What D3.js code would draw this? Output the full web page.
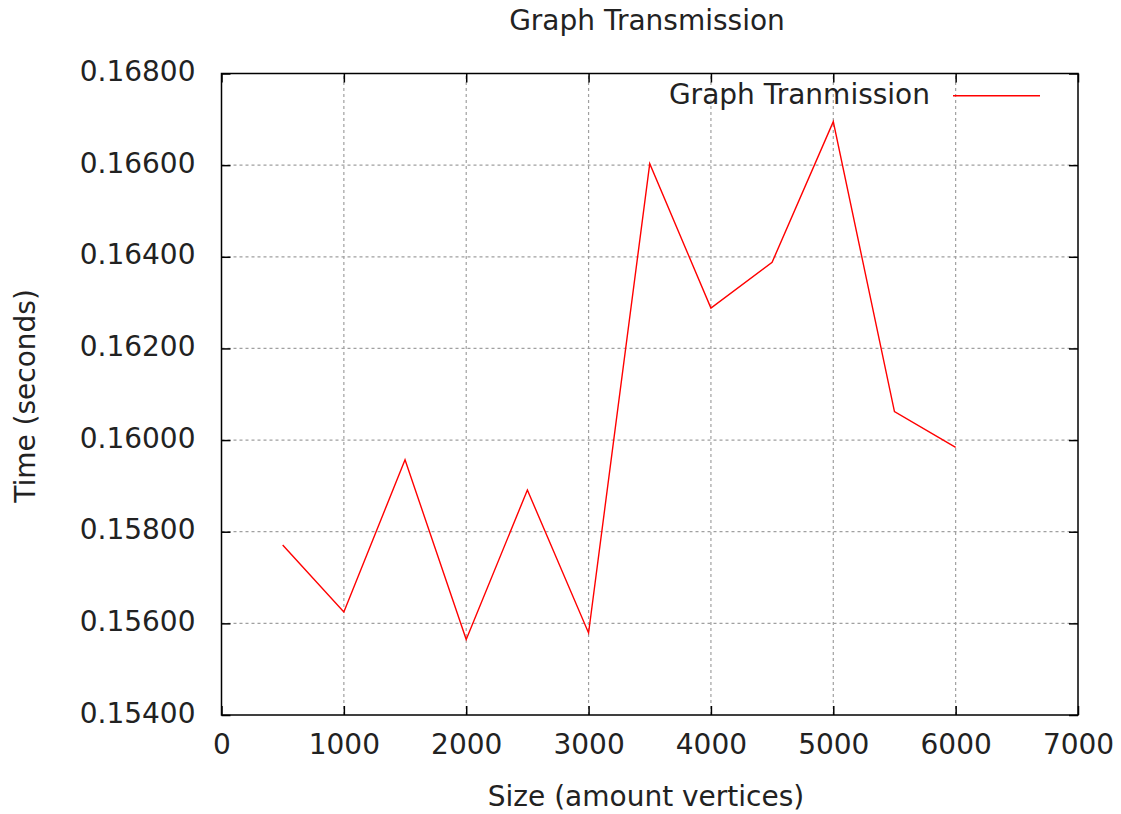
<!DOCTYPE html>
<html>
<head>
<meta charset="utf-8">
<script src="https://cdn.jsdelivr.net/npm/d3@7"></script>
<style>
  body { margin: 0; background: #fff; }
  svg text { font-family: "DejaVu Sans", sans-serif; fill: #222; }
</style>
</head>
<body>
<svg id="chart" width="1121" height="814"></svg>
<script>
const sizes = [500, 1000, 1500, 2000, 2500, 3000, 3500, 4000, 4500, 5000, 5500, 6000];
const times = [0.15771, 0.15625, 0.15957, 0.15565, 0.15891, 0.15579, 0.16603, 0.16288, 0.16388, 0.16695, 0.16062, 0.15984];
const xTicks = [0, 1000, 2000, 3000, 4000, 5000, 6000, 7000];
const yTicks = [0.154, 0.156, 0.158, 0.160, 0.162, 0.164, 0.166, 0.168];
const titleText = "Graph Transmission";
const seriesName = "Graph Tranmission";
const xLabel = "Size (amount vertices)";
const yLabel = "Time (seconds)";

const svg = d3.select("#chart");
const L = 221.5, R = 1078, T = 73.5, B = 715;
const x = d3.scaleLinear().domain([0, 7000]).range([L, R]);
const y = d3.scaleLinear().domain([0.154, 0.168]).range([B, T]);
const fs = 28;

// grid
const grid = svg.append("g").attr("stroke", "#a0a0a0").attr("stroke-width", 1.2).attr("stroke-dasharray", "3,3");
xTicks.filter(v => v > 0 && v < 7000).forEach(v => {
  grid.append("line").attr("x1", x(v)).attr("x2", x(v)).attr("y1", B).attr("y2", T);
});
yTicks.filter(v => v > 0.154 && v < 0.168).forEach(v => {
  grid.append("line").attr("x1", L).attr("x2", R).attr("y1", y(v)).attr("y2", y(v));
});

// axes via d3
const tl = 9;
svg.append("g").attr("transform", `translate(0,${B})`)
  .call(d3.axisBottom(x).tickValues(xTicks).tickFormat(d3.format("d")).tickSizeInner(-tl).tickSizeOuter(0).tickPadding(18))
  .call(g => g.select(".domain").remove())
  .call(g => g.selectAll("line").attr("stroke", "#000").attr("stroke-width", 1.5))
  .call(g => g.selectAll("text").attr("font-size", fs).attr("font-family", "DejaVu Sans").attr("fill", "#222").attr("dy", "0.75em"));
svg.append("g").attr("transform", `translate(0,${T})`)
  .call(d3.axisTop(x).tickValues(xTicks).tickFormat("").tickSizeInner(-tl).tickSizeOuter(0))
  .call(g => g.select(".domain").remove())
  .call(g => g.selectAll("line").attr("stroke", "#000").attr("stroke-width", 1.5));
svg.append("g").attr("transform", `translate(${L},0)`)
  .call(d3.axisLeft(y).tickValues(yTicks).tickFormat(d3.format(".5f")).tickSizeInner(-tl).tickSizeOuter(0).tickPadding(26))
  .call(g => g.select(".domain").remove())
  .call(g => g.selectAll("line").attr("stroke", "#000").attr("stroke-width", 1.5))
  .call(g => g.selectAll("text").attr("font-size", fs).attr("font-family", "DejaVu Sans").attr("fill", "#222").attr("dy", "0.25em"));
svg.append("g").attr("transform", `translate(${R},0)`)
  .call(d3.axisRight(y).tickValues(yTicks).tickFormat("").tickSizeInner(-tl).tickSizeOuter(0))
  .call(g => g.select(".domain").remove())
  .call(g => g.selectAll("line").attr("stroke", "#000").attr("stroke-width", 1.5));

// frame
svg.append("rect").attr("x", L).attr("y", T).attr("width", R - L).attr("height", B - T)
  .attr("fill", "none").attr("stroke", "#000").attr("stroke-width", 1.5);

// series line
const line = d3.line().x((d, i) => x(sizes[i])).y(d => y(d));
svg.append("path").datum(times).attr("d", line)
  .attr("fill", "none").attr("stroke", "#ff0000").attr("stroke-width", 1.4);

// legend
svg.append("text").attr("x", 930).attr("y", 104).attr("text-anchor", "end").attr("font-size", fs).text(seriesName);
svg.append("line").attr("x1", 953).attr("x2", 1040).attr("y1", 95.7).attr("y2", 95.7)
  .attr("stroke", "#ff0000").attr("stroke-width", 1.4);

// titles
svg.append("text").attr("x", 647).attr("y", 30).attr("text-anchor", "middle").attr("font-size", fs).text(titleText);
svg.append("text").attr("x", 646).attr("y", 806).attr("text-anchor", "middle").attr("font-size", fs).text(xLabel);
svg.append("text").attr("transform", "translate(35,396) rotate(-90)").attr("text-anchor", "middle").attr("font-size", fs).text(yLabel);
</script>
</body>
</html>
